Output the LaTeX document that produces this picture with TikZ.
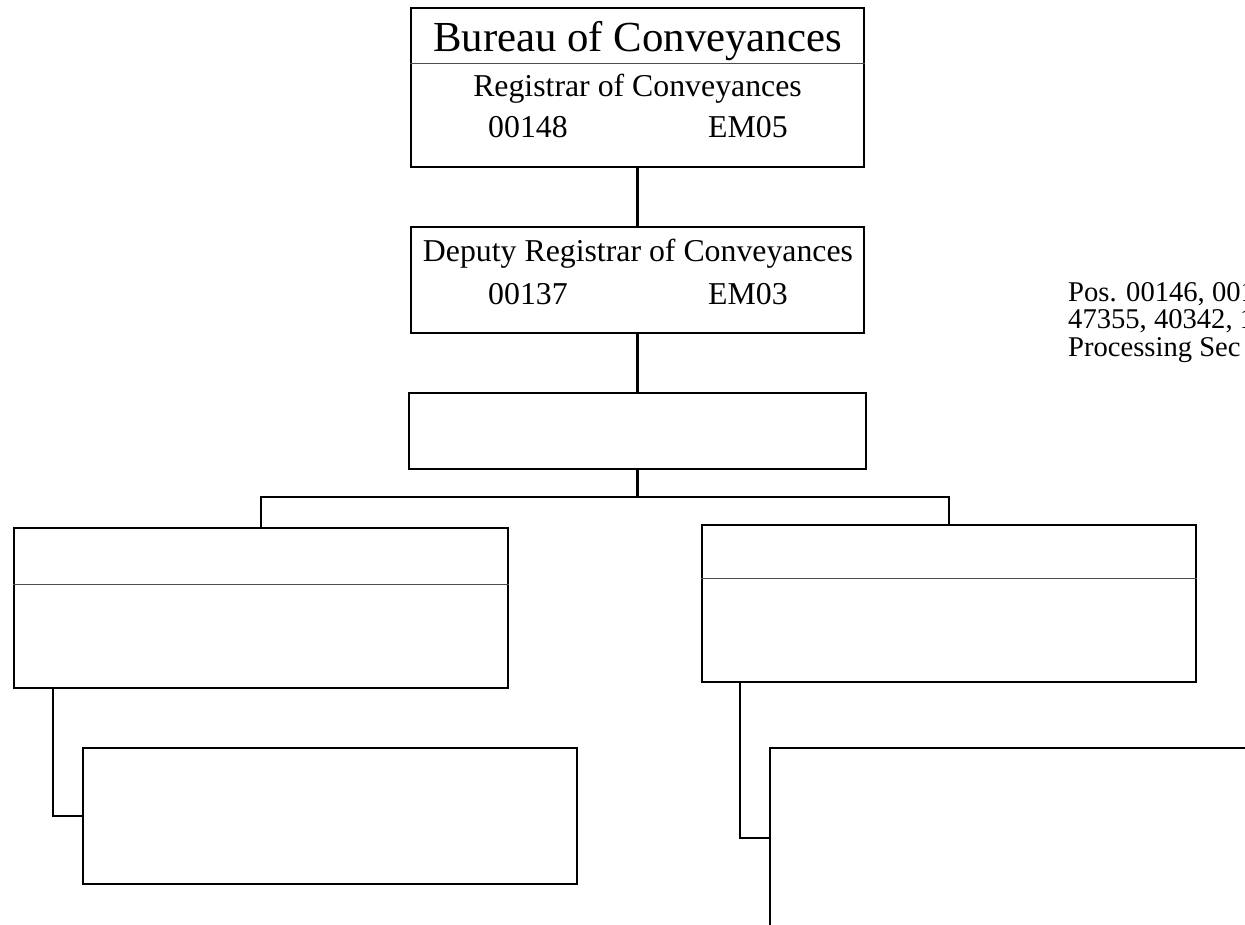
\documentclass[tikz,border=0pt]{standalone}
\usepackage{fontspec}
\setmainfont{Liberation Serif}
\usepackage{tikz}
\usetikzlibrary{positioning}

\newcommand{\headsz}{\fontsize{42.8}{48}\selectfont}
\newcommand{\titlesz}{\fontsize{31.8}{36}\selectfont}
\newcommand{\notesz}{\fontsize{28.6}{27}\selectfont}

\tikzset{
  orgbox/.style={draw, line width=2.4pt, inner sep=0pt},
  divider/.style={draw=black!70, line width=1pt},
  link/.style={line width=2.4pt},
  lbl/.style={inner sep=0pt, anchor=base},
  lblw/.style={inner sep=0pt, anchor=base west}
}

\begin{document}
\begin{tikzpicture}[x=1pt,y=-1pt]
  \useasboundingbox (0,0) rectangle (1245,925);
  \fill[white] (0,0) rectangle (1245,925);
  \clip (0,0) rectangle (1245,925);

  % boxes
  \node[orgbox, minimum width=453pt, minimum height=159pt] (bureau) at (637.5,87.5) {};
  \node[orgbox, minimum width=453pt, minimum height=106pt] (deputy) at (637.5,280) {};
  \node[orgbox, minimum width=457pt, minimum height=76pt] (office) at (637.5,431) {};
  \node[orgbox, minimum width=494pt, minimum height=160pt] (leftunit) at (261,608) {};
  \node[orgbox, minimum width=494pt, minimum height=157pt] (rightunit) at (949,603.5) {};
  \node[orgbox, minimum width=494pt, minimum height=136pt] (leftsub) at (330,816) {};
  \node[orgbox, minimum width=494pt, minimum height=180pt] (rightsub) at (1017,838) {};

  % dividers
  \path[divider] (bureau.west |- 0,64) -- (bureau.east |- 0,64);
  \path[divider] (leftunit.west |- 0,584) -- (leftunit.east |- 0,584);
  \path[divider] (rightunit.west |- 0,578) -- (rightunit.east |- 0,578);

  % texts
  \node[lbl, font=\headsz] (bureautitle) at (637.5,52) {Bureau of Conveyances};
  \node[lbl, font=\titlesz] (registrar) at (637.5,97) {Registrar of Conveyances};
  \node[lblw, font=\titlesz] (regpos) at (488,138) {00148};
  \node[lblw, font=\titlesz] (reggrade) at (708,138) {EM05};
  \node[lbl, font=\titlesz] (depname) at (638,262) {Deputy Registrar of Conveyances};
  \node[lblw, font=\titlesz] (deppos) at (488,305) {00137};
  \node[lblw, font=\titlesz] (depgrade) at (708,305) {EM03};

  \node[lblw, font=\notesz] (note1) at (1068,302) {Pos. 00146, 001};
  \node[lblw, font=\notesz] (note2) at (1068,329) {47355, 40342, 1};
  \node[lblw, font=\notesz] (note3) at (1068,356) {Processing Sec};

  % connectors
  \coordinate (bus) at (637.5,497);
  \coordinate (ltap) at (53,688);
  \coordinate (rtap) at (740,682);

  \path[draw,link] (bureau.south) -- (deputy.north);
  \path[draw,link] (deputy.south) -- (office.north);
  \path[draw,link] (office.south) -- (bus);
  \path[draw,link] (bus) -| (leftunit.north);
  \path[draw,link] (bus) -| (rightunit.north);
  \path[draw,link] (ltap) |- (leftsub.west);
  \path[draw,link] (rtap) |- (rightsub.west);
\end{tikzpicture}
\end{document}
